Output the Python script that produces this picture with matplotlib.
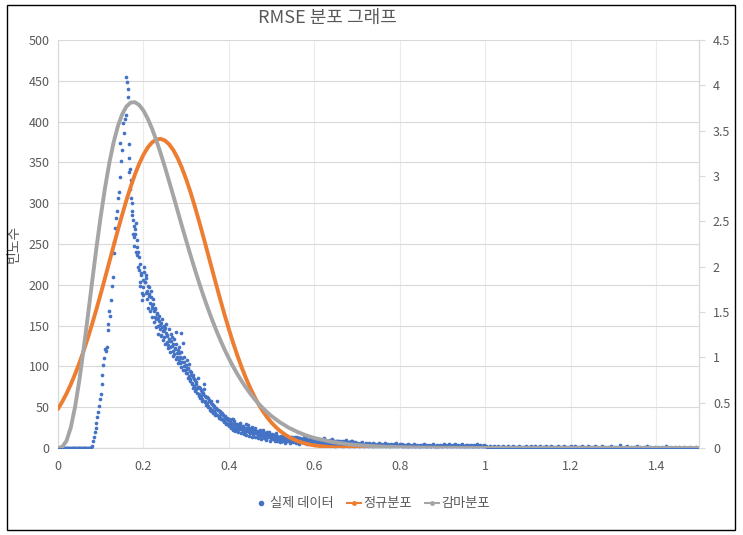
import numpy as np
import matplotlib
matplotlib.use("Agg")
import matplotlib.pyplot as plt
from matplotlib.lines import Line2D
from matplotlib.patches import Rectangle

plt.rcParams['font.family'] = ['Noto Sans CJK KR', 'DejaVu Sans']

title = "RMSE 분포 그래프"
y_label = "빈도수"
series_names = ["실제 데이터", "정규분포", "감마분포"]

# ---- observed frequency data (x step 0.002), segments: (start x, values)
step = 0.002
seg_zero = (0.000, [0] * 40)
seg_rise = (0.080, [3, 9, 13, 19, 24, 31, 38, 44, 52, 60, 66, 78, 90, 102, 110, 121, 119, 124,
                    145, 152, 168, 162, 181, 198, 210, 239, 252, 270, 282, 290, 306, 314, 332,
                    374, 352, 365, 398, 386, 403, 408, 455])
seg_peak = (0.162, [448, 430, 355, 342, 328, 300, 290, 280, 272, 268, 276, 255, 246, 240, 234,
                    226, 214, 181, 197, 206])
seg_a = (0.202, [216, 204, 208, 192, 198, 186, 197, 178, 185, 172, 176, 168, 160, 170, 158, 164,
                 150, 156, 146, 153, 139, 148, 143, 136, 147, 141, 130, 138, 126, 134, 124, 131,
                 136, 119, 127, 115, 122, 142, 112, 120, 108, 116, 104, 141, 110, 129, 100, 106,
                 95, 102])
seg_b = (0.302, [92, 98, 88, 94, 84, 90, 80, 87, 76, 83, 72, 79, 74, 75, 66, 73, 64, 69, 60, 66,
                 72, 58, 63, 55, 61, 52, 58, 49, 55, 47, 53, 45, 50, 43, 48, 41, 46, 39, 44, 37,
                 42, 35, 40, 33, 38, 31, 36, 30, 34, 28])
seg_c = (0.402, [33, 27, 31, 25, 36, 29, 24, 30, 27, 22, 28, 25, 31, 23, 26, 21, 27, 24, 19, 25,
                 22, 28, 20, 23, 18, 24, 21, 17, 22, 19, 25, 18, 20, 16, 21, 18, 15, 20, 17, 22,
                 15, 18, 14, 19, 16, 13, 17, 15, 12, 16])
seg_d = (0.502, [14, 11, 16, 13, 10, 15, 12, 9, 14, 11, 13, 8, 12, 15, 10, 11, 9, 13, 10, 12, 8,
                 11, 14, 9, 10, 12, 8, 11, 9, 13, 7, 10, 12, 8, 9, 11, 7, 10, 8, 12, 9, 7, 10, 8,
                 11, 6, 9, 8, 10, 7])
seg_e = (0.602, [9, 6, 8, 11, 7, 5, 8, 6, 9, 7, 12, 6, 8, 5, 7, 9, 6, 8, 5, 7, 11, 6, 4, 7, 8, 5,
                 6, 9, 5, 7, 6, 4, 8, 6, 5, 7, 10, 5, 6, 4, 7, 5, 6, 8, 4, 6, 5, 7, 4, 6])
seg_f = (0.702, [5, 3, 6, 4, 5, 7, 4, 3, 5, 6, 4, 5, 3, 6, 4, 5, 2, 4, 6, 3, 5, 4, 3, 5, 6, 4, 3,
                 5, 4, 2, 5, 4, 6, 3, 4, 5, 3, 4, 2, 5, 4, 3, 5, 4, 3, 6, 4, 3, 4, 5])
seg_g = (0.802, [4, 3, 5, 2, 4, 3, 4, 2, 3, 5, 3, 4, 2, 3, 4, 3, 5, 2, 3, 4, 2, 3, 4, 3, 2, 4, 3,
                 5, 3, 2, 4, 3, 2, 4, 3, 3, 2, 4, 5, 3, 2, 3, 4, 2, 3, 3, 4, 2, 3, 4])
seg_h = (0.902, [3, 5, 4, 3, 2, 4, 5, 3, 4, 2, 3, 4, 3, 5, 4, 2, 3, 4, 3, 2, 4, 3, 5, 3, 2, 3, 4,
                 2, 3, 4, 3, 2, 4, 3, 2, 3, 4, 2, 3, 5, 2, 3, 2, 4, 3, 2, 3, 2, 4, 3])
seg_i = (1.002, [2, 1, 0, 1, 2, 0, 1, 1, 0, 2, 1, 0, 1, 0, 2, 1, 0, 1, 1, 0, 2, 0, 1, 0, 1, 2, 0,
                 1, 0, 1, 0, 2, 1, 0, 1, 0, 1, 0, 2, 1, 0, 0, 1, 0, 1, 0, 2, 0, 1, 0])
seg_j = (1.102, [1, 0, 0, 2, 0, 1, 0, 3, 1, 0, 0, 1, 0, 2, 0, 0, 1, 0, 1, 0, 2, 0, 0, 1, 0, 0, 3,
                 0, 1, 0, 0, 1, 0, 0, 2, 0, 1, 0, 0, 1, 0, 2, 0, 0, 1, 0, 0, 1, 0, 2])
seg_k = (1.202, [0, 1, 0, 0, 2, 0, 0, 1, 0, 0, 1, 0, 3, 0, 0, 1, 0, 0, 0, 2, 0, 1, 0, 0, 1, 0, 0,
                 2, 0, 0, 1, 0, 0, 0, 1, 0, 2, 0, 0, 1, 0, 0, 0, 1, 0, 0, 2, 0, 0, 1])
seg_l = (1.302, [0, 0, 1, 0, 0, 0, 4, 0, 1, 0, 0, 0, 1, 0, 0, 2, 0, 0, 0, 1, 0, 0, 0, 1, 0, 0, 2,
                 0, 0, 0, 1, 0, 0, 0, 0, 1, 0, 0, 2, 0, 0, 0, 1, 0, 0, 0, 0, 1, 0, 0])
seg_m = (1.402, [0, 1, 0, 0, 0, 0, 1, 0, 0, 0, 2, 0, 0, 0, 0, 1, 0, 0, 0, 0, 0, 1, 0, 0, 0, 0, 1,
                 0, 0, 0, 0, 0, 1, 0, 0, 0, 0, 0, 1, 0, 0, 0, 0, 0, 0, 1, 0, 0, 0, 0])
# interleaved observations (odd thousandths) in the dense decay region
seg_o1 = (0.163, [440, 372, 338, 318, 306, 285, 262, 258, 248, 262, 240, 236, 222, 218, 204, 198,
                  212, 190, 188, 222])
seg_o2 = (0.203, [203, 190, 212, 182, 171, 189, 168, 193, 175, 161, 183, 154, 172, 148, 166, 159,
                  140, 162, 151, 137, 158, 132, 150, 145, 128, 152, 137, 122, 146, 131, 118, 140,
                  125, 113, 134, 121, 109, 128, 116, 104, 124, 111, 99, 118, 106, 96, 112, 101,
                  92, 108])
seg_o3 = (0.303, [97, 86, 103, 82, 93, 78, 89, 74, 85, 70, 81, 67, 86, 64, 75, 61, 71, 58, 68, 78,
                  56, 64, 53, 62, 50, 59, 47, 57, 45, 54, 43, 51, 41, 49, 58, 40, 47, 37, 45, 35,
                  43, 34, 41, 32, 39, 30, 37, 29, 35, 27])
seg_o4 = (0.403, [30, 24, 35, 22, 28, 33, 21, 26, 30, 19, 27, 23, 29, 18, 24, 26, 17, 23, 29, 16,
                  21, 25, 15, 22, 19, 26, 14, 20, 23, 13, 18, 21, 12, 19, 16, 22, 11, 17, 20, 12,
                  15, 18, 10, 16, 13, 19, 9, 14, 12, 17])
seg_o5 = (0.503, [12, 16, 9, 13, 18, 8, 11, 14, 7, 12, 15, 9, 10, 13, 6, 11, 14, 8, 10, 12, 6, 9,
                  13, 7, 11, 8, 14, 6, 10, 9, 12, 5, 8, 11, 7, 9, 13, 6, 8, 10, 5, 9, 7, 11, 6, 8,
                  10, 5, 7, 9])
seg_o6 = (0.603, [7, 10, 5, 8, 6, 9, 4, 7, 11, 5, 6, 8, 4, 7, 9, 5, 6, 10, 4, 7, 5, 8, 6, 3, 7, 9,
                  5, 6, 4, 8, 5, 7, 3, 6, 9, 4, 6, 5, 7, 3, 6, 8, 4, 5, 7, 3, 6, 5, 4])
segments = [seg_zero, seg_rise, seg_peak, seg_a, seg_b, seg_c, seg_d, seg_e, seg_f, seg_g,
            seg_h, seg_i, seg_j, seg_k, seg_l, seg_m, seg_o1, seg_o2, seg_o3, seg_o4, seg_o5,
            seg_o6]

# ---- fitted normal curve (secondary axis)
normal_x = [0.00, 0.01, 0.02, 0.03, 0.04, 0.05, 0.06, 0.07, 0.08, 0.09, 0.10, 0.11, 0.12, 0.13,
            0.14, 0.15, 0.16, 0.17, 0.18, 0.19, 0.20, 0.21, 0.22, 0.23, 0.24, 0.25, 0.26, 0.27,
            0.28, 0.29, 0.30, 0.31, 0.32, 0.33, 0.34, 0.35, 0.36, 0.37, 0.38, 0.39, 0.40, 0.41,
            0.42, 0.43, 0.44, 0.45, 0.46, 0.47, 0.48, 0.49, 0.50, 0.51, 0.52, 0.53, 0.54, 0.55,
            0.56, 0.57, 0.58, 0.59, 0.60, 0.62, 0.64, 0.66, 0.68, 0.70, 0.72, 0.80, 1.00, 1.50]
normal_y = [0.431, 0.511, 0.601, 0.702, 0.815, 0.938, 1.072, 1.216, 1.370, 1.532, 1.701, 1.874,
            2.051, 2.227, 2.401, 2.570, 2.731, 2.880, 3.016, 3.135, 3.235, 3.314, 3.370, 3.402,
            3.410, 3.392, 3.350, 3.285, 3.197, 3.089, 2.963, 2.822, 2.667, 2.503, 2.332, 2.157,
            1.980, 1.805, 1.633, 1.467, 1.308, 1.157, 1.017, 0.887, 0.768, 0.661, 0.564, 0.477,
            0.402, 0.335, 0.278, 0.229, 0.187, 0.152, 0.122, 0.098, 0.077, 0.061, 0.048, 0.037,
            0.029, 0.017, 0.009, 0.005, 0.003, 0.001, 0.001, 0.0, 0.0, 0.0]

# ---- fitted gamma curve (secondary axis)
gamma_x = [0.00, 0.01, 0.02, 0.03, 0.04, 0.05, 0.06, 0.07, 0.08, 0.09, 0.10, 0.11, 0.12, 0.13,
           0.14, 0.15, 0.16, 0.17, 0.18, 0.19, 0.20, 0.21, 0.22, 0.23, 0.24, 0.25, 0.26, 0.27,
           0.28, 0.29, 0.30, 0.31, 0.32, 0.33, 0.34, 0.35, 0.36, 0.37, 0.38, 0.39, 0.40, 0.41,
           0.42, 0.43, 0.44, 0.45, 0.46, 0.47, 0.48, 0.49, 0.50, 0.52, 0.54, 0.56, 0.58, 0.60,
           0.64, 0.68, 0.72, 0.76, 0.80, 0.85, 0.90, 1.00, 1.50]
gamma_y = [0.0, 0.012, 0.080, 0.227, 0.455, 0.749, 1.091, 1.461, 1.839, 2.210, 2.555, 2.868,
           3.141, 3.368, 3.547, 3.679, 3.766, 3.810, 3.814, 3.783, 3.721, 3.632, 3.523, 3.395,
           3.253, 3.101, 2.941, 2.780, 2.614, 2.448, 2.287, 2.127, 1.974, 1.826, 1.684, 1.549,
           1.422, 1.302, 1.190, 1.084, 0.987, 0.896, 0.813, 0.736, 0.665, 0.600, 0.540, 0.486,
           0.437, 0.392, 0.351, 0.281, 0.224, 0.178, 0.140, 0.110, 0.068, 0.041, 0.025, 0.015,
           0.009, 0.004, 0.002, 0.0005, 0.0]

left_ticks = [0, 50, 100, 150, 200, 250, 300, 350, 400, 450, 500]
right_ticks = [0, 0.5, 1, 1.5, 2, 2.5, 3, 3.5, 4, 4.5]
x_ticks = [0, 0.2, 0.4, 0.6, 0.8, 1.0, 1.2, 1.4]
x_tick_labels = ["0", "0.2", "0.4", "0.6", "0.8", "1", "1.2", "1.4"]
right_tick_labels = ["0", "0.5", "1", "1.5", "2", "2.5", "3", "3.5", "4", "4.5"]

BLUE, ORANGE, GRAY = "#4472C4", "#ED7D31", "#A5A5A5"
TXT = "#595959"

fig = plt.figure(figsize=(7.43, 5.35), dpi=100)
ax = fig.add_axes([58 / 743, 1 - 448 / 535, (699 - 58) / 743, (448 - 40) / 535])

xs, ys = [], []
for start, vals in segments:
    for i, v in enumerate(vals):
        xs.append(round(start + step * i, 3))
        ys.append(v)

ax.scatter(xs, ys, s=7, color=BLUE, linewidths=0, zorder=3)
ax.set_xlim(0, 1.5)
ax.set_ylim(0, 500)
ax.set_yticks(left_ticks)
ax.set_xticks(x_ticks)
ax.set_xticklabels(x_tick_labels)
ax.grid(True, axis='y', color="#D9D9D9", linewidth=0.8)
ax.grid(True, axis='x', color="#EBEBEB", linewidth=0.8)
ax.set_axisbelow(True)
ax.spines["top"].set_visible(False)
for sp in ["left", "bottom", "right"]:
    ax.spines[sp].set_color("#D9D9D9")
    ax.spines[sp].set_linewidth(0.9)
ax.tick_params(axis='y', length=0, labelsize=9, colors=TXT, pad=6)
ax.tick_params(axis='x', length=0, labelsize=9, colors=TXT, pad=9)
ax.set_ylabel(y_label, fontsize=10, color=TXT, labelpad=6)

ax2 = ax.twinx()
ax2.plot(normal_x, normal_y, color=ORANGE, linewidth=2.8, solid_capstyle='round',
         solid_joinstyle='round', zorder=4)
ax2.plot(gamma_x, gamma_y, color=GRAY, linewidth=2.8, solid_capstyle='round',
         solid_joinstyle='round', zorder=5)
ax2.set_ylim(0, 4.5)
ax2.set_yticks(right_ticks)
ax2.set_yticklabels(right_tick_labels)
for sp in ["top", "left", "bottom"]:
    ax2.spines[sp].set_visible(False)
ax2.spines["right"].set_color("#D9D9D9")
ax2.tick_params(axis='y', length=4, color="#D9D9D9", labelsize=9, labelcolor=TXT, pad=6)

fig.text(0.441, 1 - 18 / 535, title, ha='center', va='center', fontsize=13, color=TXT)

handles = [
    Line2D([], [], linestyle='none', marker='o', markersize=3, color=BLUE),
    Line2D([], [], color=ORANGE, linewidth=1.5, marker='o', markersize=2.5),
    Line2D([], [], color=GRAY, linewidth=1.5, marker='o', markersize=2.5),
]
fig.legend(handles, series_names, loc='center', bbox_to_anchor=(0.5, 1 - 504 / 535),
           ncol=3, frameon=False, fontsize=9.5, labelcolor=TXT, handlelength=1.1,
           handletextpad=0.15, columnspacing=1.0)

fig.patches.append(Rectangle((7 / 743, 1 - 530 / 535), (735 - 7) / 743, (530 - 5) / 535,
                             transform=fig.transFigure, fill=False, edgecolor="black",
                             linewidth=1.0))

fig.savefig("out.png", dpi=100)
